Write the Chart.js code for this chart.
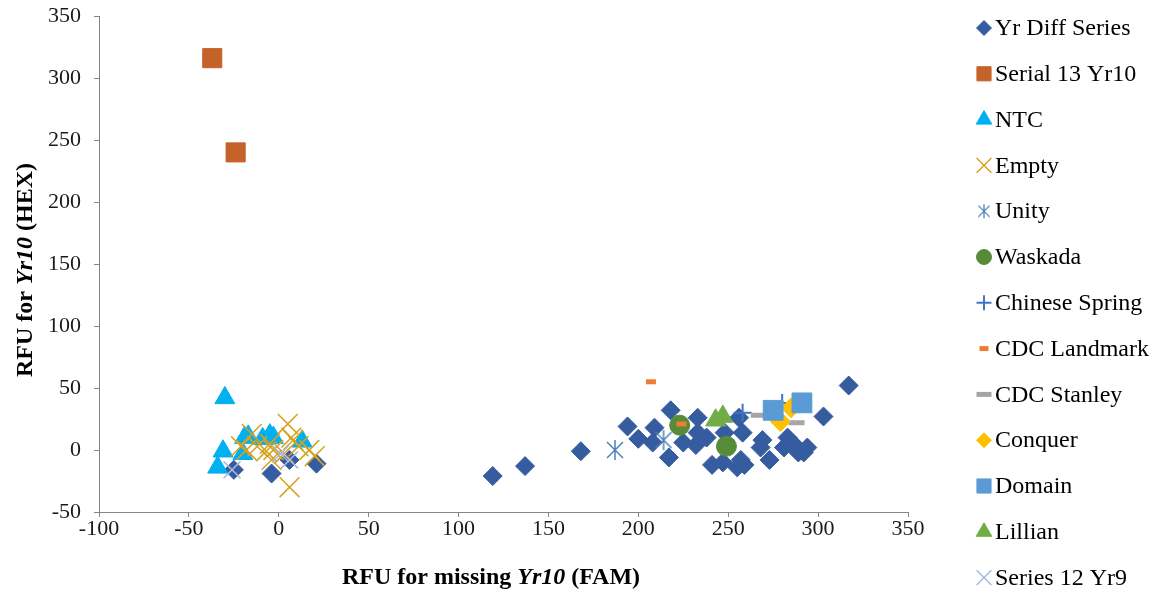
<!DOCTYPE html>
<html>
<head>
<meta charset="utf-8">
<script src="https://cdn.jsdelivr.net/npm/chart.js@4.4.1/dist/chart.umd.min.js"></script>
<style>
  html, body { margin: 0; padding: 0; background: #fff; }
  #wrap { width: 1156px; height: 594px; position: relative; }
</style>
</head>
<body>
<div id="wrap"><canvas id="myChart"></canvas></div>
<script>
// values: [RFU FAM, RFU HEX]
const yrDiffSeries = [
  [-25, -16], [-4, -19], [6, -8], [21, -11],
  [119, -21], [137, -13], [168, -1], [194, 19], [200, 9], [209, 18], [208, 6],
  [218, 32], [217, -6], [233, 26], [225, 6], [232, 4], [238, 10], [233, 14],
  [248, 14], [241, -12], [247, -10], [255, -14], [257, -8], [256, 26], [258, 14],
  [269, 8], [268, 2], [273, -8], [283, 10], [281, 2], [287, 4], [289, -2],
  [294, 2], [292, -2], [259, -12], [303, 27], [317, 52]
];
const serial13Yr10 = [[-37, 316], [-24, 240]];
const ntc = [
  [-30, 42], [-19, 10], [-17, 11], [-9, 9], [-5, 12], [-3, 10], [13, 7],
  [-31, -1], [-34, -14], [-20, -3]
];
const empty = [
  [5, 21], [-15, 13], [-21, 3], [-18, 0], [-12, 3], [-7, -1], [-5, 5], [6, -30],
  [8, 8], [-3, 0], [3, -3], [11, 3], [17, 0], [20, -5], [-4, -8], [7, 10]
];
const unity = [[187, 0], [214, 8]];
const waskada = [[223, 20], [249, 3]];
const chineseSpring = [[258, 30], [280, 38]];
const cdcLandmark = [[207, 55], [224, 21]];
const cdcStanley = [[267, 28], [288, 22]];
const conquer = [[279, 23], [285, 34]];
const domain = [[275, 32], [291, 38]];
const lillian = [[243, 24], [247, 27]];
const series12Yr9 = [[-26, -16], [6, -8], [1, -3]];

const xTicksMin = -100, xTicksMax = 350, xStep = 50;
const yTicksMin = -50, yTicksMax = 350, yStep = 50;

// asterisk marker (vertical bar + x), like the spreadsheet one
function makeStar(size, color, lw) {
  const c = document.createElement('canvas');
  c.width = size; c.height = size;
  const g = c.getContext('2d');
  g.strokeStyle = color;
  g.lineWidth = lw;
  const m = size / 2, r = size / 2 - 1;
  g.beginPath();
  g.moveTo(m, m - r); g.lineTo(m, m + r);
  g.moveTo(m - r * 0.8, m - r * 0.8); g.lineTo(m + r * 0.8, m + r * 0.8);
  g.moveTo(m + r * 0.8, m - r * 0.8); g.lineTo(m - r * 0.8, m + r * 0.8);
  g.stroke();
  return c;
}
const unityColor = '#4E80BA';
const unityStar = makeStar(22, unityColor, 1.5);
const unityStarSmall = makeStar(16, unityColor, 1.3);

function toPts(arr) {
  return arr.map(p => ({ x: p[0], y: p[1] }));
}

function ds(label, arr, color, style, radius, bw, legendRadius, extra) {
  return Object.assign({
    label: label,
    data: toPts(arr),
    backgroundColor: color,
    borderColor: color,
    pointStyle: style,
    pointRadius: radius,
    pointHoverRadius: radius,
    pointBorderWidth: bw,
    borderWidth: bw,
    legendRadius: legendRadius
  }, extra || {});
}

const datasets = [
  ds('Yr Diff Series', yrDiffSeries, '#365CA0', 'rectRot', 9.5, 1, 7.5),
  ds('Serial 13 Yr10', serial13Yr10, '#C5622A', 'rect', 13.5, 1, 10),
  ds('NTC', ntc, '#00B0F0', 'triangle', 11.5, 1, 9),
  ds('Empty', empty, '#D6A21F', 'crossRot', 14, 1.5, 10.5),
  ds('Unity', unity, unityColor, unityStar, 10, 1.5, 8, { legendImage: unityStarSmall }),
  ds('Waskada', waskada, '#568B37', 'circle', 10, 1, 7.5),
  ds('Chinese Spring', chineseSpring, '#4472C4', 'cross', 9, 2, 7.5),
  ds('CDC Landmark', cdcLandmark, '#ED7D31', 'line', 5, 5, 4.5),
  ds('CDC Stanley', cdcStanley, '#A5A5A5', 'line', 8, 5, 7.5),
  ds('Conquer', conquer, '#FFC000', 'rectRot', 10, 1, 7.5),
  ds('Domain', domain, '#5B9BD5', 'rect', 14, 1, 10),
  ds('Lillian', lillian, '#70AD47', 'triangle', 11.5, 1, 9),
  ds('Series 12 Yr9', series12Yr9, '#A8B8E0', 'crossRot', 12, 1.5, 10.5)
];
// later series on top, like the spreadsheet
datasets.forEach((d, i) => { d.order = datasets.length - i; });

const serif = '"Liberation Serif", "Times New Roman", serif';

function drawRuns(ctx, runs, x, y) {
  // runs: [[text, font], ...] drawn centred on x
  let total = 0;
  runs.forEach(r => { ctx.font = r[1]; total += ctx.measureText(r[0]).width; });
  let cx = x - total / 2;
  runs.forEach(r => {
    ctx.font = r[1];
    ctx.fillText(r[0], cx, y);
    cx += ctx.measureText(r[0]).width;
  });
}

const extrasPlugin = {
  id: 'extras',
  afterDraw(chart) {
    const ctx = chart.ctx;
    const b = 'bold 24px ' + serif;
    const bi = 'bold italic 24px ' + serif;
    ctx.save();
    ctx.fillStyle = '#000';
    ctx.textBaseline = 'middle';
    ctx.textAlign = 'left';
    // x title
    drawRuns(ctx, [['RFU for missing ', b], ['Yr10', bi], [' (FAM)', b]], 491, 578);
    // y title
    ctx.save();
    ctx.translate(26, 270);
    ctx.rotate(-Math.PI / 2);
    drawRuns(ctx, [['RFU for ', b], ['Yr10', bi], [' (HEX)', b]], 0, 0);
    ctx.restore();

    // legend on the right
    const lx = 984, ly0 = 28, gap = 45.8;
    chart.data.datasets.forEach((d, i) => {
      const y = ly0 + i * gap;
      ctx.save();
      ctx.fillStyle = d.backgroundColor;
      ctx.strokeStyle = d.borderColor;
      ctx.lineWidth = d.borderWidth;
      Chart.helpers.drawPoint(ctx, {
        pointStyle: d.legendImage || d.pointStyle,
        radius: d.legendRadius,
        borderWidth: d.borderWidth,
        rotation: 0
      }, lx, y);
      ctx.restore();
      ctx.fillStyle = '#000';
      ctx.font = '24px ' + serif;
      ctx.fillText(d.label, 995, y + 1);
    });
    ctx.restore();
  }
};

const tickFont = { family: serif, size: 22 };
const axisGray = '#868686';

const config = {
  type: 'scatter',
  data: { datasets: datasets },
  options: {
    responsive: true,
    maintainAspectRatio: false,
    animation: false,
    layout: { padding: { left: 40, right: 248, top: 16, bottom: 0 } },
    plugins: {
      legend: { display: false },
      tooltip: { enabled: false }
    },
    scales: {
      x: {
        type: 'linear',
        position: 'bottom',
        min: xTicksMin,
        max: xTicksMax,
        ticks: { stepSize: xStep, font: tickFont, color: '#1a1a1a', padding: -1, maxRotation: 0 },
        grid: { drawOnChartArea: false, drawTicks: true, tickLength: 5, color: axisGray },
        border: { color: axisGray, width: 1 },
        afterFit: s => { s.height = 82; s.paddingLeft = 0; s.paddingRight = 0; }
      },
      y: {
        type: 'linear',
        min: yTicksMin,
        max: yTicksMax,
        ticks: { stepSize: yStep, font: tickFont, color: '#1a1a1a', padding: 13 },
        grid: { drawOnChartArea: false, drawTicks: true, tickLength: 5, color: axisGray },
        border: { color: axisGray, width: 1 },
        afterFit: s => { s.width = 59; s.paddingTop = 0; s.paddingBottom = 0; }
      }
    }
  },
  plugins: [extrasPlugin]
};

const myChart = new Chart(document.getElementById('myChart'), config);
</script>
</body>
</html>
